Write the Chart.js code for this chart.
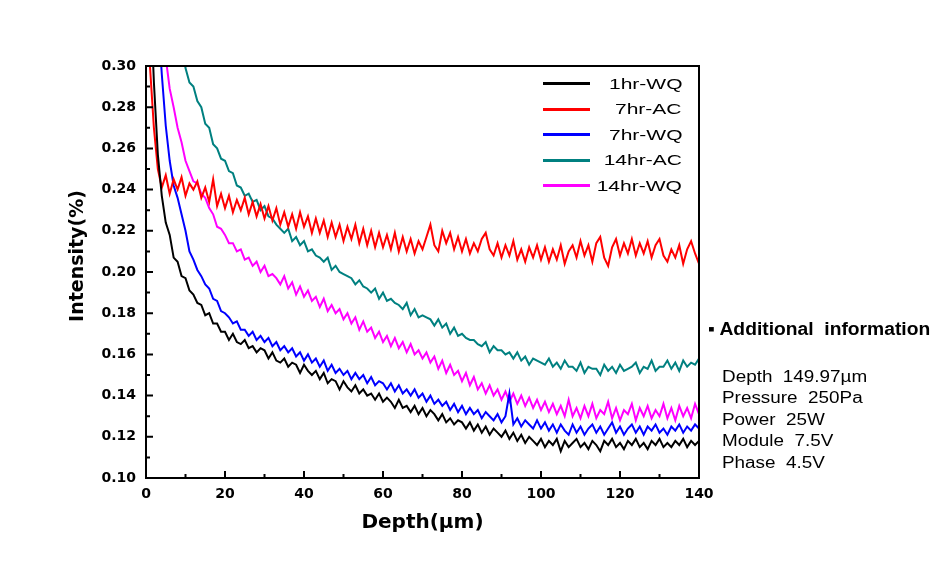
<!DOCTYPE html>
<html><head><meta charset="utf-8">
<script src="https://cdn.jsdelivr.net/npm/chart.js@4.4.0/dist/chart.umd.min.js"></script>
<style>
html,body{margin:0;padding:0;background:#fff;}
#wrap{position:relative;width:945px;height:574px;overflow:hidden;background:#fff;}
#c{position:absolute;left:0;top:0;}
.sw{position:absolute;height:3px;}
.lt{position:absolute;height:20px;line-height:20px;font-family:"Liberation Sans",Arial,sans-serif;font-size:15px;color:#000;white-space:pre;transform:scaleX(1.4);transform-origin:right center;}
.it{position:absolute;left:708px;height:22px;line-height:22px;font-family:"Liberation Sans",Arial,sans-serif;font-weight:bold;font-size:18px;color:#000;white-space:pre;transform:scaleX(1.07);transform-origin:left center;}
.il{position:absolute;left:722px;height:20px;line-height:20px;font-family:"Liberation Sans",Arial,sans-serif;font-size:16px;color:#000;white-space:pre;transform:scaleX(1.18);transform-origin:left center;}
</style></head><body>
<div id="wrap"><canvas id="c" width="945" height="574"></canvas><div id="legend"></div><div id="info"></div></div>
<script>
const depth=[0,1,2,3,4,5,6,7,8,9,10,11,12,13,14,15,16,17,18,19,20,21,22,23,24,25,26,27,28,29,30,31,32,33,34,35,36,37,38,39,40,41,42,43,44,45,46,47,48,49,50,51,52,53,54,55,56,57,58,59,60,61,62,63,64,65,66,67,68,69,70,71,72,73,74,75,76,77,78,79,80,81,82,83,84,85,86,87,88,89,90,91,92,93,94,95,96,97,98,99,100,101,102,103,104,105,106,107,108,109,110,111,112,113,114,115,116,117,118,119,120,121,122,123,124,125,126,127,128,129,130,131,132,133,134,135,136,137,138,139,140];

const wq1h=[0.420,0.340,0.292,0.257,0.237,0.224,0.218,0.207,0.205,0.198,0.197,0.191,0.189,0.185,0.184,0.179,0.180,0.175,0.175,0.171,
0.171,0.167,0.170,0.166,0.165,0.167,0.163,0.164,0.161,0.163,0.162,0.158,0.161,0.157,0.156,0.158,0.154,0.156,0.155,0.151,
0.155,0.152,0.150,0.152,0.148,0.151,0.146,0.148,0.147,0.143,0.147,0.144,0.142,0.145,0.141,0.143,0.140,0.141,0.138,0.141,
0.137,0.139,0.137,0.134,0.138,0.134,0.135,0.132,0.135,0.131,0.134,0.130,0.133,0.131,0.128,0.131,0.127,0.129,0.126,0.128,
0.127,0.124,0.127,0.123,0.126,0.122,0.125,0.121,0.124,0.122,0.120,0.123,0.119,0.122,0.118,0.121,0.117,0.120,0.118,0.116,
0.119,0.115,0.118,0.116,0.119,0.113,0.118,0.115,0.117,0.119,0.115,0.117,0.114,0.118,0.116,0.113,0.118,0.116,0.119,0.115,
0.117,0.114,0.118,0.116,0.119,0.115,0.117,0.114,0.118,0.116,0.119,0.115,0.117,0.115,0.118,0.116,0.119,0.115,0.118,0.116,0.118];

const ac7h=[0.340,0.300,0.270,0.250,0.241,0.247,0.238,0.245,0.240,0.246,0.237,0.243,0.240,0.244,0.236,0.241,0.234,0.245,0.232,0.238,
0.231,0.237,0.229,0.235,0.230,0.236,0.228,0.234,0.227,0.233,0.226,0.232,0.225,0.231,0.223,0.229,0.222,0.228,0.221,0.229,
0.222,0.227,0.219,0.226,0.219,0.225,0.217,0.224,0.217,0.223,0.215,0.222,0.216,0.223,0.214,0.221,0.213,0.220,0.212,0.219,
0.212,0.218,0.211,0.219,0.210,0.217,0.210,0.216,0.209,0.215,0.211,0.217,0.223,0.213,0.210,0.220,0.214,0.219,0.211,0.217,
0.210,0.216,0.209,0.214,0.210,0.216,0.219,0.211,0.208,0.214,0.207,0.213,0.208,0.215,0.206,0.211,0.205,0.212,0.207,0.213,
0.206,0.212,0.205,0.211,0.206,0.213,0.204,0.210,0.213,0.207,0.215,0.208,0.213,0.205,0.214,0.217,0.207,0.203,0.212,0.216,
0.208,0.214,0.209,0.216,0.208,0.214,0.209,0.215,0.207,0.213,0.216,0.208,0.205,0.211,0.207,0.213,0.204,0.211,0.215,0.209,0.204];

const wq7h=[0.520,0.430,0.370,0.326,0.296,0.271,0.254,0.242,0.236,0.228,0.220,0.210,0.206,0.201,0.198,0.194,0.192,0.187,0.186,0.181,
0.180,0.178,0.175,0.176,0.172,0.172,0.169,0.171,0.167,0.169,0.166,0.168,0.164,0.166,0.162,0.164,0.161,0.163,0.159,0.161,
0.157,0.160,0.156,0.158,0.154,0.157,0.152,0.155,0.151,0.153,0.150,0.152,0.148,0.151,0.148,0.150,0.146,0.149,0.145,0.147,
0.146,0.143,0.146,0.142,0.145,0.141,0.143,0.140,0.143,0.139,0.141,0.137,0.140,0.136,0.138,0.135,0.137,0.133,0.136,0.132,
0.135,0.131,0.134,0.131,0.133,0.129,0.132,0.130,0.128,0.131,0.127,0.130,0.141,0.126,0.129,0.125,0.128,0.126,0.124,0.128,
0.124,0.127,0.123,0.126,0.122,0.126,0.123,0.121,0.126,0.122,0.125,0.121,0.124,0.126,0.122,0.125,0.121,0.124,0.127,0.122,
0.125,0.121,0.124,0.126,0.122,0.125,0.121,0.125,0.123,0.126,0.122,0.124,0.121,0.125,0.123,0.126,0.122,0.125,0.123,0.126,0.124];

const ac14h=[0.800,0.700,0.610,0.530,0.460,0.410,0.380,0.355,0.332,0.312,0.299,0.292,0.290,0.283,0.280,0.272,0.270,0.262,0.260,0.255,
0.254,0.249,0.248,0.242,0.241,0.237,0.238,0.234,0.235,0.230,0.232,0.227,0.226,0.223,0.221,0.219,0.221,0.215,0.217,0.213,
0.215,0.210,0.211,0.208,0.207,0.205,0.207,0.201,0.203,0.200,0.199,0.198,0.197,0.194,0.196,0.193,0.192,0.190,0.192,0.187,
0.190,0.186,0.187,0.185,0.184,0.182,0.185,0.179,0.182,0.178,0.179,0.178,0.177,0.174,0.177,0.173,0.175,0.170,0.173,0.169,
0.170,0.168,0.167,0.167,0.165,0.164,0.166,0.161,0.164,0.162,0.162,0.160,0.161,0.158,0.161,0.157,0.159,0.155,0.158,0.157,
0.156,0.155,0.158,0.154,0.156,0.153,0.157,0.154,0.154,0.152,0.156,0.151,0.154,0.153,0.153,0.150,0.155,0.152,0.154,0.151,
0.155,0.152,0.153,0.154,0.156,0.151,0.154,0.153,0.157,0.152,0.154,0.154,0.157,0.153,0.156,0.152,0.157,0.154,0.156,0.155,0.158];

const wq14h=[0.600,0.500,0.430,0.372,0.330,0.304,0.289,0.280,0.270,0.263,0.254,0.249,0.244,0.243,0.238,0.236,0.231,0.228,0.222,0.221,
0.218,0.214,0.214,0.210,0.211,0.206,0.207,0.203,0.205,0.200,0.203,0.198,0.199,0.197,0.194,0.198,0.192,0.195,0.189,0.193,
0.188,0.191,0.186,0.188,0.183,0.187,0.181,0.184,0.180,0.182,0.177,0.180,0.175,0.178,0.172,0.176,0.171,0.173,0.168,0.171,
0.166,0.169,0.164,0.168,0.163,0.166,0.161,0.165,0.160,0.162,0.158,0.161,0.156,0.159,0.153,0.157,0.151,0.155,0.150,0.152,
0.147,0.151,0.145,0.149,0.143,0.146,0.141,0.145,0.140,0.143,0.138,0.142,0.137,0.141,0.136,0.140,0.135,0.139,0.134,0.138,
0.133,0.137,0.132,0.136,0.131,0.135,0.130,0.138,0.130,0.134,0.129,0.135,0.130,0.136,0.129,0.133,0.131,0.137,0.129,0.134,
0.128,0.133,0.131,0.136,0.128,0.134,0.130,0.135,0.129,0.133,0.130,0.136,0.129,0.134,0.128,0.135,0.130,0.134,0.129,0.136,0.131];

const seriesNames=['1hr-WQ','7hr-AC','7hr-WQ','14hr-AC','14hr-WQ'];
const seriesColors=['#000000','#ff0000','#0000ff','#008080','#ff00ff'];
const seriesValues=[wq1h,ac7h,wq7h,ac14h,wq14h];
const xTicks=[0,20,40,60,80,100,120,140];
const yTicks=[0.10,0.12,0.14,0.16,0.18,0.20,0.22,0.24,0.26,0.28,0.30];
const xTitle='Depth(µm)';
const yTitle='Intensity(%)';
const infoTitle='Additional  information';
const infoLines=['Depth  149.97µm','Pressure  250Pa','Power  25W','Module  7.5V','Phase  4.5V'];

const datasets=seriesValues.map((vals,i)=>({
  label:seriesNames[i],
  data:depth.map((d,j)=>({x:d,y:vals[j]})),
  borderColor:seriesColors[i],
  backgroundColor:seriesColors[i],
  borderWidth:2,
  pointRadius:0,
  tension:0,
  fill:false
}));

const framePlugin={
  id:'frame',
  afterDatasetsDraw(chart){
    const {ctx,chartArea:a,scales:{x,y}}=chart;
    ctx.save();
    ctx.strokeStyle='#000';
    ctx.lineWidth=2;
    ctx.strokeRect(a.left,a.top,a.right-a.left,a.bottom-a.top);
    ctx.beginPath();
    const xt=x.ticks.map(t=>t.value);
    xt.forEach((v,i)=>{
      const p=x.getPixelForValue(v);
      ctx.moveTo(p,a.bottom);ctx.lineTo(p,a.bottom-7);
      if(i<xt.length-1){const m=x.getPixelForValue((v+xt[i+1])/2);ctx.moveTo(m,a.bottom);ctx.lineTo(m,a.bottom-4);}
    });
    const yt=y.ticks.map(t=>t.value);
    yt.forEach((v,i)=>{
      const p=y.getPixelForValue(v);
      ctx.moveTo(a.left,p);ctx.lineTo(a.left+7,p);
      if(i<yt.length-1){const m=y.getPixelForValue((v+yt[i+1])/2);ctx.moveTo(a.left,m);ctx.lineTo(a.left+4,m);}
    });
    ctx.stroke();
    // y axis title
    ctx.translate(a.left-68,(a.top+a.bottom)/2-16);
    ctx.rotate(-Math.PI/2);
    ctx.fillStyle='#000';
    ctx.font='bold 19px "DejaVu Sans"';
    ctx.textAlign='center';
    ctx.textBaseline='middle';
    ctx.fillText(yTitle,0,0);
    ctx.restore();
  }
};

const tickFont={family:'"DejaVu Sans"',weight:'bold',size:14};
new Chart(document.getElementById('c'),{
  type:'line',
  data:{datasets},
  options:{
    responsive:false,
    animation:false,
    devicePixelRatio:1,
    layout:{padding:{left:61,right:246,top:66,bottom:37}},
    plugins:{legend:{display:false},tooltip:{enabled:false}},
    scales:{
      x:{type:'linear',min:0,max:140,
        afterBuildTicks:s=>{s.ticks=xTicks.map(v=>({value:v}));},
        afterFit:s=>{s.height=59;},
        grid:{display:false,drawTicks:false},border:{display:false},
        ticks:{padding:8,color:'#000',font:tickFont,maxRotation:0,autoSkip:false,callback:v=>String(v)},
        title:{display:true,text:xTitle,color:'#000',font:{family:'"DejaVu Sans"',weight:'bold',size:20},padding:{top:4,bottom:2}}
      },
      y:{type:'linear',min:0.10,max:0.30,
        afterBuildTicks:s=>{s.ticks=yTicks.map(v=>({value:v}));},
        afterFit:s=>{s.width=85;},
        grid:{display:false,drawTicks:false},border:{display:false},
        ticks:{padding:10,color:'#000',font:tickFont,autoSkip:false,callback:v=>Number(v).toFixed(2)},
        title:{display:false,text:yTitle}
      }
    }
  },
  plugins:[framePlugin]
});

// legend overlay
const lg=document.getElementById('legend');
seriesNames.forEach((n,i)=>{
  const cy=83.5+i*25.6;
  const sw=document.createElement('div');
  sw.className='sw';
  sw.style.left='543px';sw.style.width='47px';sw.style.top=(cy-1.5)+'px';sw.style.background=seriesColors[i];
  lg.appendChild(sw);
  const t=document.createElement('div');
  t.className='lt';
  t.style.right=(945-682)+'px';t.style.top=(cy-10)+'px';
  t.textContent=n;
  lg.appendChild(t);
});
// info overlay
const info=document.getElementById('info');
const h=document.createElement('div');
h.className='it';h.style.top=(329-11)+'px';
h.textContent='▪ '+infoTitle;
info.appendChild(h);
infoLines.forEach((s,i)=>{
  const d=document.createElement('div');
  d.className='il';d.style.top=(376.5+i*21.6-10)+'px';
  d.textContent=s;
  info.appendChild(d);
});
</script>
</body></html>
